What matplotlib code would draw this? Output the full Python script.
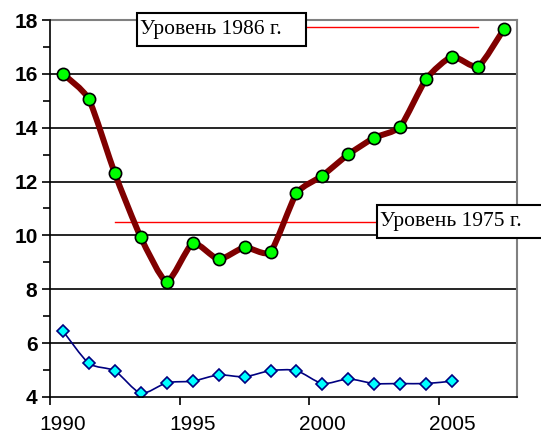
import numpy as np
import matplotlib.pyplot as plt
from matplotlib.path import Path
from matplotlib.patches import PathPatch, Rectangle

years = np.arange(1990, 2008)
upper = [16.0, 15.05, 12.3, 9.93, 8.28, 9.71, 9.11, 9.56, 9.39, 11.56,
         12.22, 13.01, 13.63, 14.04, 15.81, 16.64, 16.27, 17.67]
years_low = np.arange(1990, 2006)
lower = [6.45, 5.25, 4.97, 4.14, 4.53, 4.59, 4.82, 4.75, 4.98, 4.98,
         4.5, 4.67, 4.5, 4.5, 4.5, 4.59]
level_1986 = 17.73
level_1975 = 10.49
yticks = [4, 6, 8, 10, 12, 14, 16, 18]
xlabels = [1990, 1995, 2000, 2005]

W, H = 541, 437


def smooth_path(x, y, k=10.0):
    # bezier like excel "smoothed line"
    pts = np.column_stack([x, y]).astype(float)
    n = len(pts)
    verts = [pts[0]]
    codes = [Path.MOVETO]
    for i in range(n - 1):
        p0 = pts[max(i - 1, 0)]
        p1 = pts[i]
        p2 = pts[i + 1]
        p3 = pts[min(i + 2, n - 1)]
        c1 = p1 + (p2 - p0) / k
        c2 = p2 - (p3 - p1) / k
        verts += [c1, c2, p2]
        codes += [Path.CURVE4] * 3
    return Path(verts, codes)


fig = plt.figure(figsize=(W / 100, H / 100), dpi=100)
ax = fig.add_axes([50 / W, 1 - 397 / H, 467 / W, 377 / H])

ax.set_xlim(1989.5, 2007.5)
ax.set_ylim(4, 18)

for v in yticks[1:-1]:
    ax.axhline(v, color='black', lw=1.2, zorder=1)

# reference levels
ax.plot([1993, 2006], [level_1986, level_1986], color='red', lw=1, zorder=2)
ax.plot([1992, 2003], [level_1975, level_1975], color='red', lw=1, zorder=2)

ax.add_patch(PathPatch(smooth_path(years, upper), facecolor='none',
                       edgecolor='#800000', lw=4.3, capstyle='round',
                       joinstyle='round', zorder=3))
ax.plot(years, upper, 'o', ms=8.8, mfc='#00ff00', mec='black', mew=1.2, zorder=4)

ax.add_patch(PathPatch(smooth_path(years_low, lower, 8.0), facecolor='none',
                       edgecolor='#000080', lw=1.2, zorder=3))
ax.plot(years_low, lower, 'D', ms=6.5, mfc='#00ffff', mec='#000080', mew=1.2, zorder=4)

ax.set_yticks(yticks)
ax.set_yticks(np.arange(5, 18, 2), minor=True)
ax.set_yticklabels([str(v) for v in yticks], fontsize=15, fontweight='bold',
                   family='Liberation Sans')
ax.tick_params(axis='y', which='major', length=6, width=1.2, direction='out', pad=3)
ax.tick_params(axis='y', which='minor', length=5, width=1.2, direction='out')

ax.set_xticks([1989.5, 1994.5, 1999.5, 2004.5])
ax.set_xticklabels([])
ax.set_xticks(xlabels, minor=True)
ax.set_xticklabels([str(v) for v in xlabels], minor=True, fontsize=15,
                   family='Liberation Sans')
ax.tick_params(axis='x', which='major', length=6, width=1.2, direction='out')
ax.tick_params(axis='x', which='minor', length=0, pad=13)

ax.spines['left'].set_linewidth(1.2)
ax.spines['bottom'].set_linewidth(1.2)
ax.spines['left'].set_zorder(5)
ax.spines['bottom'].set_zorder(5)
for s in ['top', 'right']:
    ax.spines[s].set_color('#808080')
    ax.spines[s].set_linewidth(1.5)

# text boxes
boxes = [((137, 13, 169, 33), 'Уровень 1986 г.'),
         ((377, 205, 166, 33), 'Уровень 1975 г.')]
for (bx, by, bw, bh), txt in boxes:
    fig.add_artist(Rectangle((bx / W, 1 - (by + bh) / H), bw / W, bh / H,
                             transform=fig.transFigure, facecolor='white',
                             edgecolor='black', lw=1.5, zorder=10))
    fig.text((bx + 3) / W, 1 - (by + bh / 2) / H, txt, fontsize=15.5,
             family='Liberation Serif', ha='left', va='center', zorder=11)

fig.savefig('out.png', dpi=100)
